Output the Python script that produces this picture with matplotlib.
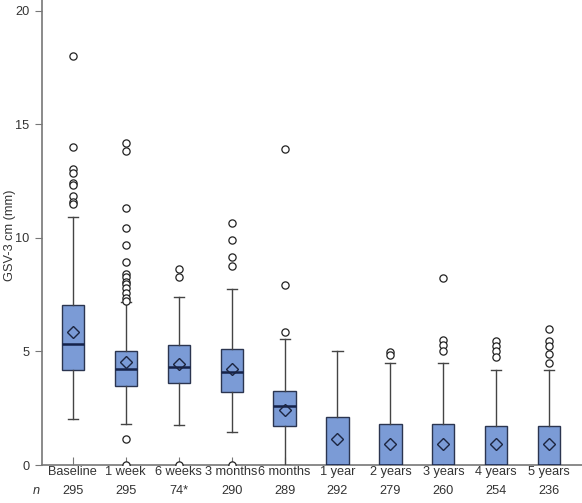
import matplotlib
matplotlib.use("Agg")
import matplotlib.pyplot as plt

categories = ["Baseline", "1 week", "6 weeks", "3 months", "6 months",
              "1 year", "2 years", "3 years", "4 years", "5 years"]
n_labels = ["295", "295", "74*", "290", "289", "292", "279", "260", "254", "236"]
medians = [5.32, 4.21, 4.30, 4.11, 2.61, 0.0, 0.0, 0.0, 0.0, 0.0]
q1 = [4.17, 3.49, 3.60, 3.20, 1.72, 0.0, 0.0, 0.0, 0.0, 0.0]
q3 = [7.05, 5.01, 5.27, 5.10, 3.27, 2.10, 1.81, 1.79, 1.70, 1.70]
whisker_low = [2.01, 1.81, 1.75, 1.47, 0.0, 0.0, 0.0, 0.0, 0.0, 0.0]
whisker_high = [10.93, 7.19, 7.39, 7.77, 5.57, 5.00, 4.49, 4.49, 4.20, 4.20]
means = [5.87, 4.52, 4.44, 4.21, 2.42, 1.15, 0.92, 0.92, 0.92, 0.92]
outliers = [
    [18.03, 14.0, 13.05, 12.88, 12.40, 12.35, 11.85, 11.57, 11.50],
    [14.17, 13.83, 11.33, 10.43, 9.70, 8.93, 8.40, 8.27, 8.05, 7.97, 7.78,
     7.56, 7.34, 7.24, 1.15, 0.0],
    [8.63, 8.30, 0.0],
    [10.66, 9.93, 9.15, 8.78, 0.0],
    [13.92, 7.94, 5.85],
    [],
    [4.98, 4.85],
    [8.24, 5.50, 5.29, 5.04],
    [5.48, 5.24, 5.02, 4.77],
    [6.00, 5.48, 5.23, 4.90, 4.49],
]

stats = []
for i in range(len(categories)):
    stats.append(dict(med=medians[i], q1=q1[i], q3=q3[i],
                      whislo=whisker_low[i], whishi=whisker_high[i],
                      mean=means[i], fliers=outliers[i], label=categories[i]))

plt.rcParams['font.family'] = ['Liberation Sans', 'DejaVu Sans']

fig = plt.figure(figsize=(5.82, 5.03), dpi=100)
ax = fig.add_axes([0.072, 0.0755, 0.928, 0.9245])

edge = '#2b3550'
positions = list(range(1, len(categories) + 1))
ax.bxp(stats, positions=positions, widths=0.42, showmeans=True,
       patch_artist=True, capwidths=0.19,
       boxprops=dict(facecolor='#7b9bd6', edgecolor=edge, linewidth=1.0),
       medianprops=dict(color='#15224a', linewidth=1.8),
       whiskerprops=dict(color='#444444', linewidth=1.0),
       capprops=dict(color='#444444', linewidth=1.0),
       meanprops=dict(marker='D', markerfacecolor='none',
                      markeredgecolor='#1c2540', markersize=6.3,
                      markeredgewidth=1.0),
       flierprops=dict(marker='o', markerfacecolor='white',
                       markeredgecolor='#222222', markersize=5.2,
                       markeredgewidth=0.9),
       zorder=2)

ax.set_xlim(0.415, 10.62)
ax.set_ylim(0, 20.48)
ax.set_yticks([0, 5, 10, 15, 20])
ax.set_yticklabels(['0', '5', '10', '15', '20'])
ax.set_xticks(positions)
ax.set_xticklabels(categories)

for s in ['top', 'right']:
    ax.spines[s].set_visible(False)
for s in ['left', 'bottom']:
    ax.spines[s].set_color('#777777')
    ax.spines[s].set_linewidth(1.2)
    ax.spines[s].set_zorder(1)

fs = 9.2
ax.tick_params(axis='y', direction='out', length=5, width=0.8, color='#777777',
               labelsize=fs, labelcolor='#333333', pad=4)
ax.tick_params(axis='x', direction='in', length=6, width=0.8, color='#777777',
               labelsize=fs, labelcolor='#333333', pad=1)
fig.text(10 / 582, 1 - 235 / 503, 'GSV-3 cm (mm)', rotation=90,
         ha='center', va='center', fontsize=fs, color='#333333')

trans = matplotlib.transforms.blended_transform_factory(ax.transData, fig.transFigure)
for p, nl in zip(positions, n_labels):
    ax.text(p, 1 - 491 / 503, nl, transform=trans, ha='center', va='center',
            fontsize=fs, color='#333333')
fig.text(36 / 582, 1 - 491 / 503, 'n', ha='center', va='center',
         fontsize=fs, style='italic', color='#333333')

fig.savefig('out.png', dpi=100)
